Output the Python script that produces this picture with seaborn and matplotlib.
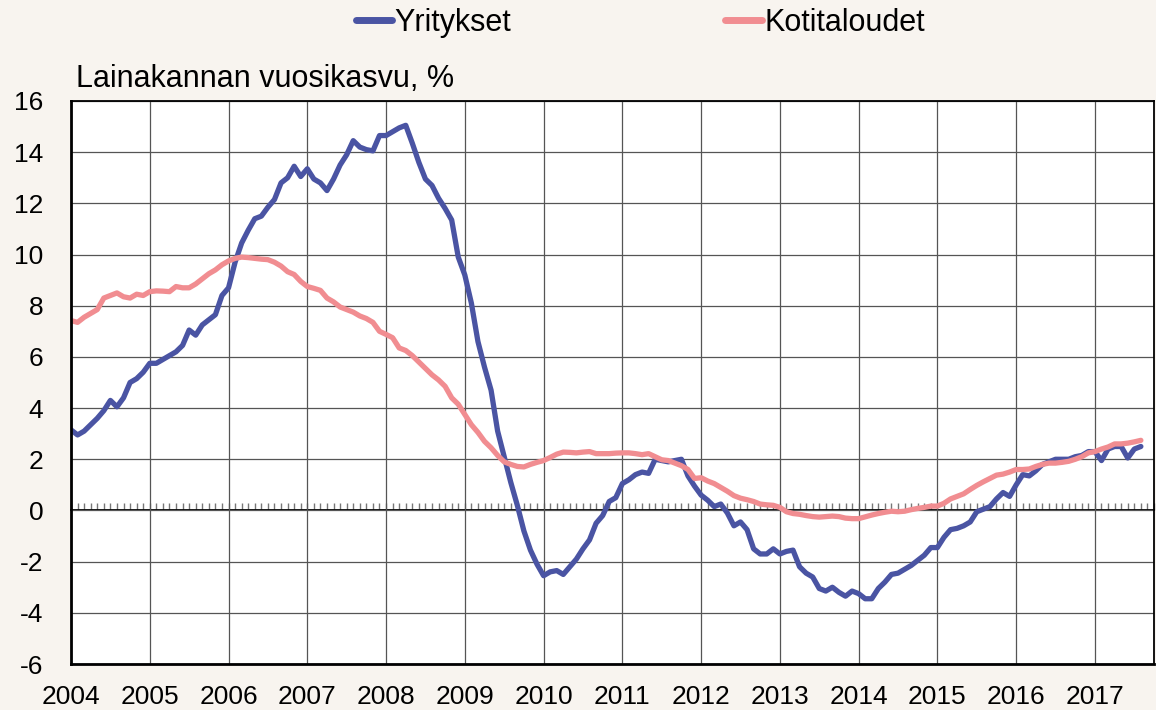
import numpy as np
import pandas as pd
import matplotlib
matplotlib.use("Agg")
import matplotlib.pyplot as plt
import seaborn as sns

# Lainakannan vuosikasvu (%), kuukausittain 1/2004 - 8/2017
start_year = 2004
yritykset = [
    3.15, 2.95, 3.1, 3.35, 3.6, 3.9, 4.3, 4.05, 4.4, 5.0, 5.15, 5.4,
    5.75, 5.75, 5.9, 6.05, 6.2, 6.45, 7.05, 6.85, 7.25, 7.45, 7.65, 8.4,
    8.7, 9.7, 10.45, 10.95, 11.4, 11.5, 11.85, 12.15, 12.8, 13.0, 13.45, 13.05,
    13.35, 12.95, 12.8, 12.5, 12.95, 13.5, 13.9, 14.45, 14.2, 14.1, 14.05, 14.65,
    14.65, 14.8, 14.95, 15.05, 14.35, 13.6, 12.95, 12.7, 12.2, 11.8, 11.35, 9.9,
    9.2, 8.1, 6.6, 5.6, 4.7, 3.1, 2.1, 1.1, 0.2, -0.8, -1.55, -2.1,
    -2.55, -2.4, -2.35, -2.5, -2.2, -1.9, -1.5, -1.15, -0.5, -0.2, 0.35, 0.5,
    1.05, 1.2, 1.4, 1.5, 1.45, 2.0, 1.95, 1.9, 1.95, 2.0, 1.35, 0.95,
    0.6, 0.4, 0.15, 0.25, -0.1, -0.6, -0.45, -0.75, -1.5, -1.7, -1.7, -1.5,
    -1.7, -1.6, -1.55, -2.2, -2.45, -2.6, -3.05, -3.15, -3.0, -3.2, -3.35, -3.15,
    -3.25, -3.45, -3.45, -3.05, -2.8, -2.5, -2.45, -2.3, -2.15, -1.95, -1.75, -1.45,
    -1.45, -1.05, -0.75, -0.7, -0.6, -0.45, -0.05, 0.05, 0.15, 0.45, 0.7, 0.55,
    1.0, 1.4, 1.35, 1.55, 1.8, 1.9, 2.0, 2.0, 2.0, 2.1, 2.15, 2.3,
    2.3, 1.95, 2.4, 2.5, 2.5, 2.05, 2.4, 2.5,
]
kotitaloudet = [
    7.42, 7.35, 7.55, 7.7, 7.85, 8.3, 8.4, 8.5, 8.35, 8.3, 8.45, 8.4,
    8.55, 8.58, 8.57, 8.55, 8.75, 8.7, 8.7, 8.85, 9.05, 9.25, 9.4, 9.6,
    9.75, 9.85, 9.9, 9.88, 9.85, 9.82, 9.8, 9.7, 9.55, 9.33, 9.22, 8.95,
    8.75, 8.68, 8.6, 8.3, 8.15, 7.95, 7.85, 7.75, 7.6, 7.5, 7.35, 7.0,
    6.88, 6.75, 6.35, 6.25, 6.05, 5.8, 5.55, 5.3, 5.1, 4.85, 4.4, 4.15,
    3.75, 3.35, 3.05, 2.7, 2.45, 2.15, 1.9, 1.8, 1.72, 1.7, 1.8, 1.88,
    1.95, 2.07, 2.2, 2.28, 2.27, 2.25, 2.28, 2.3, 2.22, 2.22, 2.22, 2.24,
    2.25, 2.25, 2.22, 2.18, 2.22, 2.1, 1.98, 1.95, 1.85, 1.75, 1.6, 1.25,
    1.28, 1.15, 1.05, 0.9, 0.75, 0.58, 0.48, 0.42, 0.35, 0.25, 0.22, 0.2,
    0.12, -0.05, -0.12, -0.15, -0.2, -0.24, -0.26, -0.24, -0.22, -0.24, -0.3, -0.32,
    -0.32, -0.25, -0.18, -0.12, -0.07, -0.03, -0.05, -0.03, 0.03, 0.08, 0.12, 0.17,
    0.17, 0.28, 0.45, 0.55, 0.65, 0.82, 0.98, 1.12, 1.25, 1.38, 1.42, 1.5,
    1.6, 1.6, 1.62, 1.72, 1.8, 1.85, 1.85, 1.88, 1.92, 2.0, 2.1, 2.25,
    2.3, 2.4, 2.48, 2.6, 2.6, 2.63, 2.68, 2.74,
]
series_names = ["Yritykset", "Kotitaloudet"]
year_ticks = list(range(2004, 2018))
y_ticks = list(range(-6, 17, 2))

n = len(yritykset)
aika = start_year + np.arange(n) / 12
df = pd.DataFrame({
    "aika": np.concatenate([aika, aika]),
    "arvo": yritykset + kotitaloudet,
    "sarja": [series_names[0]] * n + [series_names[1]] * n,
})

sns.set_style("white")
plt.rcParams["font.family"] = ["Liberation Sans", "DejaVu Sans"]
plt.rcParams["axes.unicode_minus"] = False
plt.rcParams["text.color"] = "black"
plt.rcParams["xtick.color"] = "black"
plt.rcParams["ytick.color"] = "black"

bg = "#f8f4ef"
fig = plt.figure(figsize=(11.56, 7.10), dpi=100, facecolor=bg)
ax = fig.add_axes([71 / 1156, 1 - 664 / 710, (1154 - 71) / 1156, (664 - 101) / 710])
ax.set_facecolor("white")

sns.lineplot(data=df, x="aika", y="arvo", hue="sarja", hue_order=series_names,
             palette=["#4a54a3", "#f18d91"], linewidth=3.8, ax=ax)

ax.set_xlim(2004, 2017.75)
ax.set_ylim(-6, 16)
ax.set_xticks(year_ticks)
ax.set_yticks(y_ticks)
ax.grid(True, color="#555555", linewidth=0.9)
ax.set_axisbelow(True)
ax.tick_params(axis="both", length=0, labelsize=19, labelcolor="black")
ax.tick_params(axis="y", pad=20)
ax.tick_params(axis="x", pad=15)
ax.set_xlabel("")
ax.set_ylabel("")
for s in ax.spines.values():
    s.set_color("black")
    s.set_linewidth(1.3)
ax.spines["left"].set_linewidth(2)
ax.spines["bottom"].set_linewidth(2)

# nollaviiva kuukausittaisilla väliviivoilla
zero = ax.secondary_xaxis(6 / 22)
zero.set_xticks(start_year + np.arange(0, 166) / 12)
zero.tick_params(direction="in", length=5, width=1, color="#777777", labelbottom=False)
zero.spines["bottom"].set_color("black")
zero.spines["bottom"].set_linewidth(1.3)

ax.text(0.005, 1.012, "Lainakannan vuosikasvu, %", transform=ax.transAxes,
        fontsize=22, ha="left", va="bottom", color="black")

handles, labels = ax.get_legend_handles_labels()
ax.get_legend().remove()
for h in handles:
    h.set_linewidth(5)
leg = fig.legend(handles, labels, loc="center", bbox_to_anchor=(0.554, 0.968), ncol=2,
                 frameon=False, handlelength=1.2, handletextpad=0.08, columnspacing=7.0,
                 fontsize=22, labelcolor="black")

fig.savefig("out.png", dpi=100, facecolor=bg)
